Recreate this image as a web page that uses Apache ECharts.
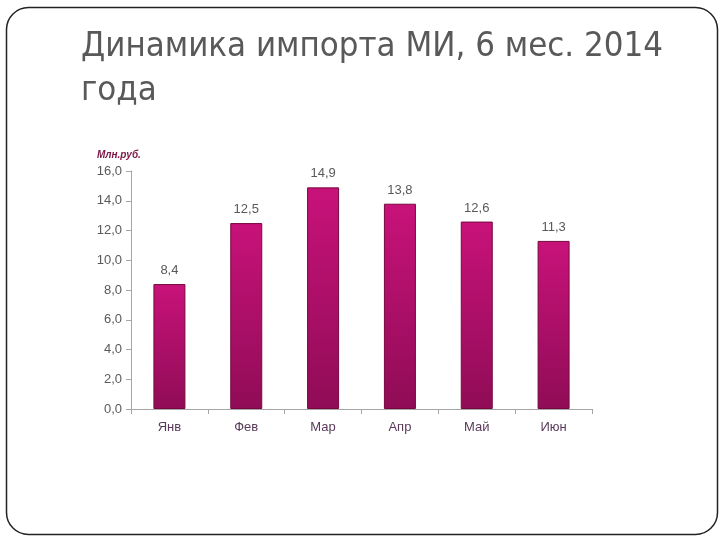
<!DOCTYPE html>
<html><head><meta charset="utf-8">
<script src="https://cdn.jsdelivr.net/npm/echarts@6/dist/echarts.min.js"></script>
<style>html,body{margin:0;padding:0;background:#fff}#c{width:720px;height:540px}</style>
</head><body><div id="c"></div>
<script>
var categories = ['Янв','Фев','Мар','Апр','Май','Июн'];
var values = [8.4, 12.5, 14.9, 13.8, 12.6, 11.3];
var yTicks = [0,2,4,6,8,10,12,14,16];
var titleLines = ['Динамика импорта МИ, 6 мес. 2014', 'года'];
var unitLabel = 'Млн.руб.';

function fmt(v){ return Number(v).toFixed(1).replace('.', ','); }

var chart = echarts.init(document.getElementById('c'), null, {renderer:'canvas'});
chart.setOption({
  backgroundColor:'#fff',
  animation:false,
  graphic:[{
    type:'rect', left:4, top:5,
    shape:{width:711, height:527, r:22},
    style:{fill:'none', stroke:'#222', lineWidth:1.5}
  },{
    type:'text', left:97, top:150,
    style:{text:unitLabel, fill:'#7a1646', font:'italic bold 10px "Liberation Sans", Arial, sans-serif'}
  }],
  title:{
    text: titleLines.join('\n'), left:76, top:20,
    textStyle:{fontFamily:'"DejaVu Sans Condensed", "Liberation Sans Narrow", sans-serif', fontWeight:'normal', fontSize:34.5, color:'#595959', lineHeight:44}
  },
  grid:{left:131, right:128, top:171, bottom:131},
  xAxis:{
    type:'category', data:categories,
    axisLine:{lineStyle:{color:'#a6a6a6'}},
    axisTick:{show:true, alignWithLabel:false, lineStyle:{color:'#a6a6a6'}},
    axisLabel:{color:'#5a3a5a', fontSize:13, margin:12, fontFamily:'"Liberation Sans", Arial, sans-serif'}
  },
  yAxis:{
    type:'value', min:yTicks[0], max:yTicks[yTicks.length-1], interval:2,
    axisLine:{show:true, lineStyle:{color:'#a6a6a6'}},
    axisTick:{show:true, lineStyle:{color:'#a6a6a6'}},
    splitLine:{show:false},
    axisLabel:{color:'#595959', fontSize:13, margin:9, formatter:fmt, fontFamily:'"Liberation Sans", Arial, sans-serif'}
  },
  series:[{
    type:'bar', data:values, barWidth:32,
    itemStyle:{
      color:new echarts.graphic.LinearGradient(0,0,0,1,[
        {offset:0,color:'#c8127a'},{offset:1,color:'#900c56'}
      ]),
      borderColor:'#76083f', borderWidth:1
    },
    label:{show:true, position:'top', distance:7, formatter:function(p){return fmt(p.value);}, color:'#595959', fontSize:13, fontFamily:'"Liberation Sans", Arial, sans-serif'}
  }]
});
</script></body></html>
